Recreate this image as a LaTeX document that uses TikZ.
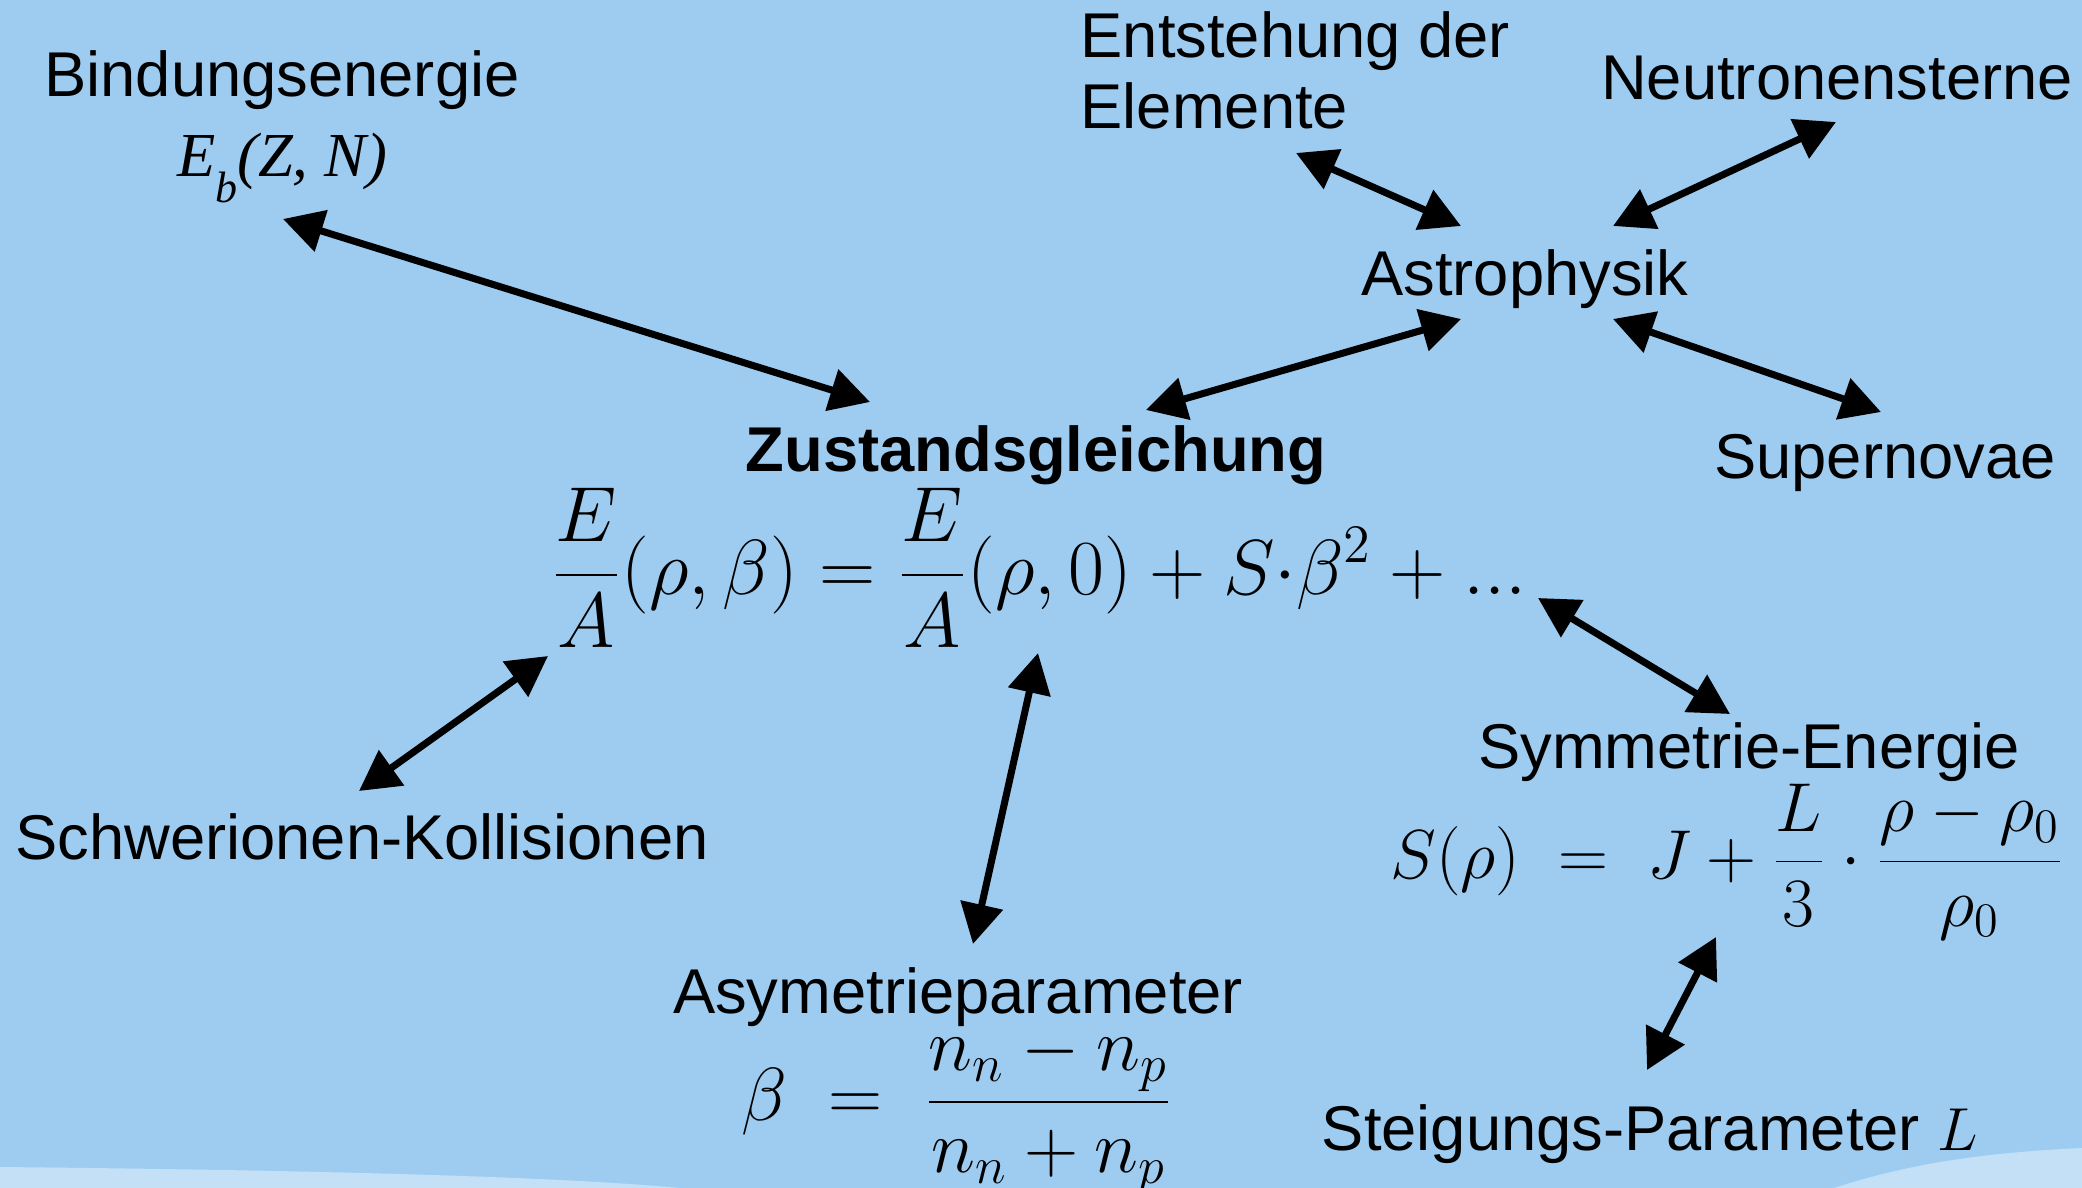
\documentclass[tikz,border=0pt]{standalone}
\usepackage{graphicx}
\usepackage[no-math]{fontspec}
\setmainfont{Liberation Sans}
\newfontfamily\serifit{Liberation Serif}
\usetikzlibrary{arrows.meta,calc}

\definecolor{skyback}{RGB}{158,204,240}
\definecolor{skylight}{RGB}{196,224,246}

\begin{document}
\begin{tikzpicture}[x=0.01cm,y=-0.01cm,
		lbl/.style={inner sep=0pt, font=\fontsize{18}{20.2}\selectfont},
		eqn/.style={inner sep=0pt, font=\fontsize{20.74}{25}\selectfont},
		dbl/.style={{Triangle[length=4mm,width=4.2mm]}-{Triangle[length=4mm,width=4.2mm]}, line width=2pt}]
			% background
			\fill[skyback] (0,0) rectangle (2082,1188);
			\fill[skylight] (0,1167) .. controls (300,1170) and (550,1176) .. (680,1188) -- (0,1188) -- cycle;
			\fill[skylight] (1834,1188) .. controls (1920,1160) and (2000,1152) .. (2082,1148) -- (2082,1188) -- cycle;
			\useasboundingbox (0,0) rectangle (2082,1188);

			% labels
			\node[lbl, anchor=base](bind) at (282,97){Bindungsenergie};
			\node[inner sep=0pt, anchor=base, font=\fontsize{17.8}{19}\selectfont](eb) at (282,177){\serifit\itshape E\raisebox{-0.4em}{\fontsize{12.5}{13}\selectfont b}(Z, N)};
			\node[lbl, align=left, anchor=base west](entst) at (1080,129){Entstehung der\\Elemente};
			\node[lbl, anchor=base](neut) at (1837,100){Neutronensterne};
			\node[lbl, anchor=base](astro) at (1525,295){Astrophysik};
			\node[lbl, anchor=base, font=\fontsize{18}{20.2}\selectfont\bfseries](zust) at (1036,471){Zustandsgleichung};
			\node[lbl, anchor=base](super) at (1885,478){Supernovae};
			\node[eqn](eq) at (1039,568){\scalebox{1.07}{$\displaystyle \frac{E}{A}(\rho,\beta) = \frac{E}{A}(\rho,0) + S{\cdot}\beta^2 + ...$}};
			\node[lbl, anchor=base](schwer) at (362,859){Schwerionen-Kollisionen};
			\node[lbl, anchor=base](asym) at (958,1013){Asymetrieparameter};
			\node[eqn](beq) at (957,1110){\scalebox{1.03}{$\displaystyle \beta\mkern5mu=\mkern5mu\frac{n_n-n_p}{n_n+n_p}$}};
			\node[lbl, anchor=base](symm) at (1749,768){Symmetrie-Energie};
			\node[eqn](seq) at (1727,862){\scalebox{0.95}{$\displaystyle S(\rho)\mkern5mu=\mkern5mu J+\frac{L}{3}\cdot\frac{\rho-\rho_0}{\rho_0}$}};
			\node[lbl, anchor=base](steig) at (1650,1150){Steigungs-Parameter $L$};

			% connections
			\draw[dbl] ($(eb.base)+(1,42)$) -- ($(zust.base)+(-166,-69)$);
			\draw[dbl] ($(entst.base west)+(216,24)$) -- ($(astro.base)+(-64,-69)$);
			\draw[dbl] ($(neut.base)+(-1,22)$) -- ($(astro.base)+(88,-69)$);
			\draw[dbl] ($(zust.base)+(110,-61)$) -- ($(astro.base)+(-64,24)$);
			\draw[dbl] ($(astro.base)+(88,24)$) -- ($(super.base)+(-4,-66)$);
			\draw[dbl] ($(schwer.base)+(-3,-68)$) -- ($(eq.center)+(-491,88)$);
			\draw[dbl] ($(asym.base)+(15,-69)$) -- ($(eq.center)+(-1,85)$);
			\draw[dbl] ($(eq.center)+(499,30)$) -- ($(symm.base)+(-19,-54)$);
			\draw[dbl] ($(seq.center)+(-11,75)$) -- ($(steig.base)+(-3,-80)$);
\end{tikzpicture}
\end{document}
